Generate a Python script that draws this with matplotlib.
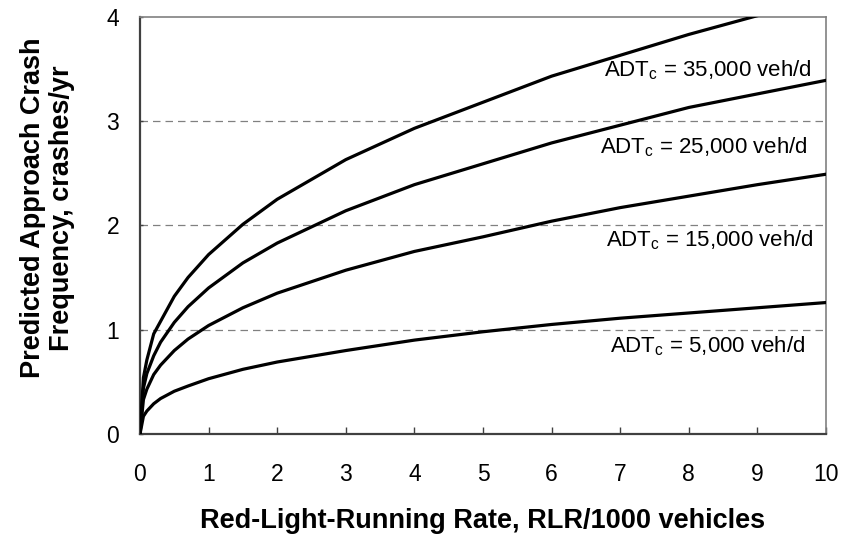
import matplotlib
matplotlib.use("Agg")
import matplotlib.pyplot as plt

plt.rcParams['font.family'] = ['Liberation Sans', 'DejaVu Sans']

rlr = [0, 0.05, 0.1, 0.2, 0.3, 0.5, 0.7, 1, 1.5, 2, 3, 4, 5, 6, 7, 8, 9, 10]
crash_35000 = [0, 0.54, 0.71, 0.96, 1.08, 1.32, 1.50, 1.72, 2.01, 2.25, 2.63, 2.93, 3.18, 3.43, 3.63, 3.83, 4.01, 4.18]
crash_25000 = [0, 0.44, 0.58, 0.75, 0.88, 1.07, 1.22, 1.40, 1.64, 1.83, 2.14, 2.39, 2.59, 2.79, 2.96, 3.13, 3.26, 3.39]
crash_15000 = [0, 0.33, 0.43, 0.57, 0.66, 0.80, 0.91, 1.04, 1.21, 1.35, 1.57, 1.75, 1.89, 2.04, 2.17, 2.28, 2.39, 2.49]
crash_5000 = [0, 0.17, 0.22, 0.29, 0.34, 0.41, 0.46, 0.53, 0.62, 0.69, 0.80, 0.90, 0.98, 1.05, 1.11, 1.16, 1.21, 1.26]

series = [crash_35000, crash_25000, crash_15000, crash_5000]
labels = ["ADT$_\\mathregular{c}$ = 35,000 veh/d", "ADT$_\\mathregular{c}$ = 25,000 veh/d",
          "ADT$_\\mathregular{c}$ = 15,000 veh/d", "ADT$_\\mathregular{c}$ = 5,000 veh/d"]
label_pos = [(9.79, 3.49), (9.74, 2.75), (9.82, 1.86), (9.70, 0.84)]

x_ticks = list(range(0, 11))
y_ticks = [0, 1, 2, 3, 4]

W, H = 844, 540
fig = plt.figure(figsize=(W / 100, H / 100), dpi=100)
ax = fig.add_axes([140 / W, 1 - 434 / H, (826 - 140) / W, (434 - 16.7) / H])

for yv in y_ticks[1:-1]:
    ax.axhline(yv, color='#808080', lw=0.9, ls=(0, (6, 4)), zorder=1)

for s in series:
    ax.plot(rlr, s, color='black', lw=2.3, solid_joinstyle='round', zorder=3, clip_on=True)

for lab, (lx, ly) in zip(labels, label_pos):
    ax.text(lx, ly, lab, ha='right', va='center', fontsize=16, zorder=4)

ax.set_xlim(0, 10)
ax.set_ylim(0, 4)
ax.set_xticks(x_ticks)
ax.set_yticks(y_ticks)
ax.tick_params(axis='x', direction='in', length=5, width=1, colors='#404040', labelcolor='black', labelsize=16.5, pad=21)
ax.tick_params(axis='y', direction='in', length=2, width=1, colors='#404040', labelcolor='black', labelsize=16.5, pad=15)
for side in ['left', 'bottom']:
    ax.spines[side].set_color('#404040')
    ax.spines[side].set_linewidth(1.6)
for side in ['top', 'right']:
    ax.spines[side].set_color('#808080')
    ax.spines[side].set_linewidth(1.2)

fig.text(483 / W, 1 - 521 / H, "Red-Light-Running Rate, RLR/1000 vehicles",
         ha='center', va='center', fontsize=19.5, fontweight='bold')
fig.text(47.5 / W, 1 - 208 / H, "Predicted Approach Crash\nFrequency, crashes/yr",
         ha='center', va='center', rotation=90, fontsize=19.5, fontweight='bold',
         linespacing=1.15, multialignment='center')

fig.savefig("out.png", dpi=100)
